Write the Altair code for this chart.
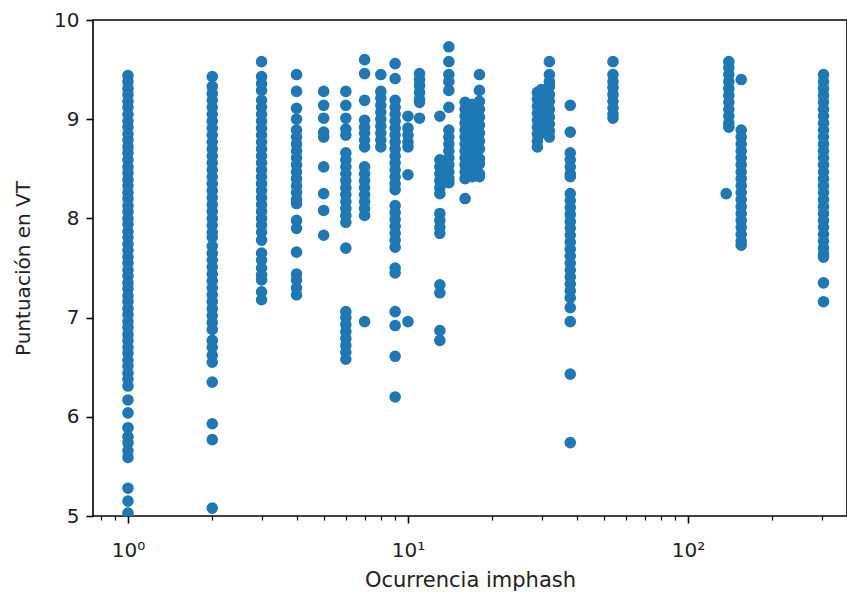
import altair as alt
import pandas as pd

# imphash occurrence (x) for each column of points
occurrences = [1, 2, 3, 4, 5, 6, 7, 8, 9, 10, 11, 13, 14, 16, 17, 18,
               29, 30, 32, 38, 54, 137, 140, 155, 305]

# VT scores per column
vt_1 = [9.44, 9.38, 9.31, 9.25, 9.18, 9.12, 9.05, 8.98, 8.92, 8.85, 8.79, 8.72, 8.66,
        8.59, 8.52, 8.46, 8.39, 8.33, 8.26, 8.2, 8.13, 8.07, 8.0, 7.94, 7.87, 7.81,
        7.74, 7.68, 7.61, 7.55, 7.48, 7.42, 7.35, 7.29, 7.22, 7.16, 7.09, 7.03, 6.96,
        6.9, 6.83, 6.77, 6.7, 6.64, 6.57, 6.51, 6.44, 6.38, 6.31, 6.17, 6.04, 5.89,
        5.8, 5.74, 5.66, 5.59, 5.28, 5.15, 5.03, 5.0]
vt_2 = [9.43, 9.33, 9.26, 9.19, 9.12, 9.05, 8.98, 8.91, 8.84, 8.77, 8.7, 8.63, 8.56,
        8.49, 8.42, 8.35, 8.28, 8.21, 8.14, 8.07, 8.0, 7.93, 7.86, 7.81, 7.72, 7.65,
        7.58, 7.51, 7.44, 7.37, 7.3, 7.23, 7.16, 7.09, 7.02, 6.95, 6.88, 6.77, 6.7,
        6.62, 6.55, 6.35, 5.93, 5.77, 5.08]
vt_3 = [9.58, 9.43, 9.36, 9.29, 9.19, 9.12, 9.05, 8.98, 8.91, 8.84, 8.77, 8.7, 8.63,
        8.56, 8.49, 8.42, 8.35, 8.28, 8.21, 8.14, 8.07, 8.0, 7.93, 7.86, 7.78, 7.65,
        7.58, 7.5, 7.43, 7.38, 7.26, 7.18]
vt_4 = [9.45, 9.28, 9.11, 9.0, 8.89, 8.82, 8.75, 8.68, 8.61, 8.54, 8.47, 8.4, 8.33,
        8.26, 8.19, 8.15, 7.98, 7.9, 7.66, 7.44, 7.38, 7.3, 7.23]
vt_5 = [9.28, 9.14, 9.01, 8.87, 8.82, 8.52, 8.25, 8.08, 7.83]
vt_6 = [9.28, 9.14, 9.01, 8.9, 8.84, 8.66, 8.59, 8.52, 8.45, 8.38, 8.31, 8.24, 8.17,
        8.1, 8.03, 7.96, 7.7, 7.06, 7.0, 6.93, 6.86, 6.79, 6.72, 6.65, 6.58]
vt_7 = [9.6, 9.46, 9.19, 8.99, 8.92, 8.86, 8.79, 8.72, 8.52, 8.45, 8.38, 8.31, 8.24,
        8.17, 8.1, 8.03, 6.96]
vt_8 = [9.45, 9.28, 9.21, 9.14, 9.07, 9.0, 8.93, 8.86, 8.79, 8.72]
vt_9 = [9.56, 9.41, 9.19, 9.12, 9.05, 8.98, 8.91, 8.84, 8.77, 8.7, 8.63, 8.56, 8.49,
        8.42, 8.35, 8.29, 8.13, 8.06, 7.99, 7.92, 7.85, 7.78, 7.71, 7.5, 7.45, 7.06,
        6.92, 6.61, 6.2]
vt_10 = [9.03, 8.91, 8.84, 8.77, 8.72, 8.44, 6.96]
vt_11 = [9.46, 9.4, 9.34, 9.27, 9.2, 9.17, 9.01]
vt_13 = [9.03, 8.59, 8.52, 8.45, 8.38, 8.31, 8.25, 8.05, 7.98, 7.91, 7.85, 7.33, 7.25,
         6.87, 6.77]
vt_14 = [9.73, 9.58, 9.45, 9.38, 9.29, 9.12, 8.89, 8.82, 8.75, 8.68, 8.61, 8.54, 8.47,
         8.4, 8.36]
vt_16 = [9.17, 9.1, 9.03, 8.96, 8.89, 8.82, 8.75, 8.68, 8.61, 8.54, 8.47, 8.4, 8.2]
vt_17 = [9.15, 9.05, 8.98, 8.9, 8.8, 8.72, 8.64, 8.56, 8.5, 8.42]
vt_18 = [9.45, 9.29, 9.18, 9.1, 9.02, 8.94, 8.86, 8.78, 8.7, 8.6, 8.55, 8.45, 8.42]
vt_29 = [9.27, 9.2, 9.13, 9.06, 8.99, 8.92, 8.85, 8.78, 8.72]
vt_30 = [9.3, 9.22, 9.15, 9.08, 9.0, 8.93, 8.86]
vt_32 = [9.58, 9.45, 9.38, 9.33, 9.25, 9.18, 9.1, 9.02, 8.95, 8.88, 8.82]
vt_38 = [9.14, 8.87, 8.66, 8.59, 8.52, 8.45, 8.42, 8.25, 8.18, 8.11, 8.04, 7.97, 7.9,
         7.83, 7.76, 7.69, 7.62, 7.55, 7.48, 7.41, 7.34, 7.27, 7.2, 7.1, 6.96, 6.43,
         5.74]
vt_54 = [9.58, 9.45, 9.38, 9.32, 9.25, 9.18, 9.11, 9.05, 9.01]
vt_137 = [8.25]
vt_140 = [9.58, 9.52, 9.45, 9.38, 9.31, 9.24, 9.17, 9.1, 9.03, 8.96, 8.92]
vt_155 = [9.4, 8.89, 8.82, 8.75, 8.68, 8.61, 8.54, 8.47, 8.4, 8.33, 8.26, 8.19, 8.12,
          8.05, 7.98, 7.91, 7.84, 7.77, 7.73]
vt_305 = [9.45, 9.38, 9.31, 9.24, 9.17, 9.1, 9.03, 8.96, 8.89, 8.82, 8.75, 8.68, 8.61,
          8.54, 8.47, 8.4, 8.33, 8.26, 8.19, 8.12, 8.05, 7.98, 7.91, 7.84, 7.77, 7.7,
          7.64, 7.61, 7.35, 7.16]

columns = [vt_1, vt_2, vt_3, vt_4, vt_5, vt_6, vt_7, vt_8, vt_9, vt_10, vt_11, vt_13,
           vt_14, vt_16, vt_17, vt_18, vt_29, vt_30, vt_32, vt_38, vt_54, vt_137,
           vt_140, vt_155, vt_305]

major_ticks = [1, 10, 100]
minor_ticks = [0.8, 0.9, 2, 3, 4, 5, 6, 7, 8, 9, 20, 30, 40, 50, 60, 70, 80, 90, 200, 300]
y_ticks = [5, 6, 7, 8, 9, 10]

rows = []
for occ, vals in zip(occurrences, columns):
    for v in vals:
        rows.append({"occ": occ, "vt": v})
df = pd.DataFrame(rows)

FONT = "DejaVu Sans"
xscale = alt.Scale(type="log", domain=[0.75, 370], nice=False, zero=False)
yscale = alt.Scale(domain=[5, 10], nice=False, zero=False)

points = alt.Chart(df).mark_circle(size=135, color="#1f77b4", opacity=1, clip=True).encode(
    x=alt.X("occ:Q", scale=xscale,
            axis=alt.Axis(orient="bottom", values=major_ticks, title="Ocurrencia imphash",
                          labelExpr="datum.value == 1 ? '10⁰' : (datum.value == 10 ? '10¹' : '10²')",
                          grid=False, tickSize=7, tickWidth=1.6, tickColor="black",
                          domain=False, labelBaseline="alphabetic", labelPadding=33,
                          labelFontSize=20, labelFont=FONT, labelColor="#222222",
                          titleFontSize=21, titleFont=FONT, titleFontWeight="normal",
                          titleColor="#222222", titleBaseline="middle", titleY=64,
                          labelFlush=False)),
    y=alt.Y("vt:Q", scale=yscale,
            axis=alt.Axis(values=y_ticks, title="Puntuación en VT", grid=False,
                          tickSize=7, tickWidth=1.6, tickColor="black", domain=False,
                          labelPadding=7, labelFontSize=20, labelFont=FONT,
                          labelColor="#222222", titleFontSize=20, titleFont=FONT,
                          titleFontWeight="normal", titleColor="#222222",
                          titleBaseline="middle", titleX=-70, titleY=248,
                          labelFlush=False)),
)

minor = alt.Chart(df).mark_circle(size=0, opacity=0).encode(
    x=alt.X("occ:Q", scale=xscale,
            axis=alt.Axis(orient="bottom", values=minor_ticks, labels=False, title=None,
                          grid=False, tickSize=4, tickWidth=1.2, tickColor="black",
                          domain=False)),
    y=alt.Y("vt:Q", scale=yscale, axis=None),
)

chart = alt.layer(points, minor).resolve_axis(x="independent", y="independent").properties(
    width=754, height=496,
    autosize=alt.AutoSizeParams(type="none"),
    padding={"left": 93, "top": 20, "right": 0, "bottom": 78},
    background="white",
).configure_view(stroke="black", strokeWidth=1.6)

chart.save("out.html", embed_options={"renderer": "svg", "actions": False})
